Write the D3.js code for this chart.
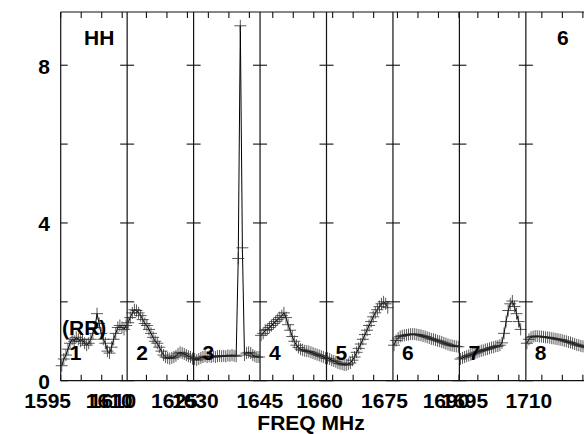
<!DOCTYPE html>
<html>
<head>
<meta charset="utf-8">
<script src="https://cdn.jsdelivr.net/npm/d3@7"></script>
<style>
  html, body { margin: 0; padding: 0; background: #fff; }
  svg { display: block; }
  text { font-family: "Liberation Sans", Arial, Helvetica, sans-serif; font-weight: bold; fill: #000; }
</style>
</head>
<body>
<svg id="chart" width="584" height="434"></svg>
<script>
// ---------------- data ----------------
const panelNames = ["1", "2", "3", "4", "5", "6", "7", "8"];
const panelStartMHz = [1595, 1610.3, 1626.4, 1641.9, 1658.5, 1673.9, 1690.5, 1706.1];
const panelSpanMHz = 16.2;
const channelsPerPanel = 32;

const amp1 = [0.38,0.55,0.65,0.8,0.95,1.05,1.0,1.1,1.05,1.0,1.05,0.95,0.9,0.95,1.05,1.2,1.35,1.7,1.45,1.2,1.05,0.95,0.75,0.7,0.85,1.05,1.2,1.35,1.4,1.35,1.3,1.4];
const amp2 = [1.47,1.6,1.72,1.8,1.78,1.72,1.65,1.55,1.45,1.4,1.3,1.2,1.1,1.0,0.95,0.85,0.75,0.65,0.6,0.58,0.56,0.58,0.6,0.63,0.68,0.72,0.7,0.68,0.65,0.62,0.6,0.56];
const amp3 = [0.55,0.52,0.55,0.58,0.6,0.62,0.6,0.62,0.6,0.62,0.6,0.62,0.63,0.62,0.63,0.62,0.64,0.63,0.65,0.63,0.62,3.1,9.0,3.37,0.65,0.7,0.72,0.7,0.65,0.62,0.6,0.6];
const amp4 = [1.15,1.2,1.28,1.3,1.35,1.4,1.45,1.5,1.55,1.6,1.65,1.72,1.6,1.42,1.28,1.12,1.0,0.9,0.84,0.8,0.78,0.76,0.75,0.74,0.72,0.7,0.68,0.66,0.64,0.62,0.6,0.57];
const amp5 = [0.57,0.55,0.52,0.5,0.48,0.45,0.43,0.42,0.4,0.4,0.42,0.45,0.52,0.6,0.72,0.82,0.93,1.05,1.17,1.28,1.4,1.5,1.62,1.72,1.8,1.88,1.95,2.0,1.95,1.85,null,null];
const amp6 = [0.9,1.02,1.08,1.12,1.14,1.15,1.16,1.17,1.18,1.18,1.18,1.17,1.16,1.15,1.13,1.12,1.1,1.08,1.06,1.05,1.03,1.01,1.0,0.98,0.96,0.94,0.92,0.9,0.89,0.88,0.87,0.86];
const amp7 = [0.55,0.58,0.6,0.62,0.64,0.66,0.68,0.7,0.72,0.74,0.76,0.77,0.79,0.8,0.82,0.84,0.85,0.87,0.88,0.9,0.96,1.2,1.5,1.78,1.95,2.02,1.88,1.7,1.5,1.3,null,null];
const amp8 = [0.95,1.05,1.1,1.12,1.13,1.13,1.12,1.12,1.11,1.1,1.1,1.09,1.08,1.07,1.06,1.05,1.04,1.03,1.01,1.0,0.98,0.97,0.95,0.93,0.91,0.9,0.88,0.87,0.86,0.84,0.83,0.82];
const amplitudes = [amp1, amp2, amp3, amp4, amp5, amp6, amp7, amp8];

const freqTickStep = 5;
const freqTickLabels = [[1595, 1610], [1610, 1625], [1630], [1645], [1660], [1675, 1690], [1695], [1710]];
const yTicks = [0, 2, 4, 6, 8];
const yTickLabels = [0, 4, 8];
const yMax = 9.35;
const titleLeft = "HH";
const titleRight = "6";
const polLabel = "(RR)";
const xTitle = "FREQ MHz";

// ---------------- layout ----------------
(function () {
const svg = d3.select("#chart");
const plotLeft = 60.7, plotTop = 12, plotBottom = 380.7, panelW = 66.45;
const W = 584;
const y = d3.scaleLinear().domain([0, yMax]).range([plotBottom, plotTop]);
const fs = 21;

const g = svg.append("g");

// frame lines
g.append("line").attr("x1", plotLeft).attr("x2", W + 20).attr("y1", plotTop).attr("y2", plotTop)
  .attr("stroke", "#111").attr("stroke-width", 1.2);
g.append("line").attr("x1", plotLeft).attr("x2", W + 20).attr("y1", plotBottom).attr("y2", plotBottom)
  .attr("stroke", "#111").attr("stroke-width", 1.2);
g.append("line").attr("x1", plotLeft).attr("x2", plotLeft).attr("y1", plotTop).attr("y2", plotBottom)
  .attr("stroke", "#111").attr("stroke-width", 1.2);

// y ticks on left axis
yTicks.forEach(t => {
  g.append("line").attr("x1", plotLeft).attr("x2", plotLeft + 7).attr("y1", y(t)).attr("y2", y(t))
    .attr("stroke", "#111").attr("stroke-width", 1.1);
});
yTickLabels.forEach(t => {
  g.append("text").attr("x", 50).attr("y", y(t) + 8.5).attr("text-anchor", "end")
    .attr("font-size", fs).text(t);
});

const line = d3.line()
  .defined(d => d.v !== null)
  .x(d => d.x).y(d => y(d.v));

panelStartMHz.forEach((start, i) => {
  const x0 = plotLeft + i * panelW, x1 = x0 + panelW;
  const x = d3.scaleLinear().domain([start, start + panelSpanMHz]).range([x0, x1]);

  // divider at right edge of panel
  g.append("line").attr("x1", x1).attr("x2", x1).attr("y1", plotTop).attr("y2", plotBottom)
    .attr("stroke", "#111").attr("stroke-width", 1.2);
  yTicks.forEach(t => {
    g.append("line").attr("x1", x1 - 7).attr("x2", x1 + 7).attr("y1", y(t)).attr("y2", y(t))
      .attr("stroke", "#111").attr("stroke-width", 1.1);
  });

  // frequency ticks (top and bottom)
  const firstTick = Math.ceil(start / freqTickStep) * freqTickStep;
  const ticks = d3.range(firstTick, start + panelSpanMHz + 0.01, freqTickStep);
  ticks.forEach(f => {
    g.append("line").attr("x1", x(f)).attr("x2", x(f)).attr("y1", plotTop).attr("y2", plotTop + 6)
      .attr("stroke", "#111").attr("stroke-width", 1.1);
    g.append("line").attr("x1", x(f)).attr("x2", x(f)).attr("y1", plotBottom).attr("y2", plotBottom - 6)
      .attr("stroke", "#111").attr("stroke-width", 1.1);
  });
  freqTickLabels[i].forEach(f => {
    g.append("text").attr("x", x(f) - 13).attr("y", 408).attr("text-anchor", "middle")
      .attr("font-size", fs).text(f);
  });

  // data
  const step = panelSpanMHz / channelsPerPanel;
  const pts = amplitudes[i].map((v, j) => ({ x: x(start + (j + 0.5) * step), v }));
  g.append("path").datum(pts).attr("d", line)
    .attr("fill", "none").attr("stroke", "#000").attr("stroke-width", 1);
  g.append("g").selectAll("path").data(pts.filter(d => d.v !== null)).join("path")
    .attr("d", d => {
      const cx = d.x, cy = y(d.v);
      return `M${cx - 6},${cy}H${cx + 6}M${cx},${cy - 6}V${cy + 6}`;
    })
    .attr("stroke", "#222").attr("stroke-width", 1).attr("stroke-opacity", 0.75);

  // panel number
  g.append("text").attr("x", x0 + 9).attr("y", 360).attr("font-size", fs).text(panelNames[i]);
});

// other labels
g.append("text").attr("x", 84).attr("y", 45).attr("font-size", fs).text(titleLeft);
g.append("text").attr("x", 557).attr("y", 45).attr("font-size", fs).text(titleRight);
g.append("text").attr("x", 62).attr("y", 335).attr("font-size", fs).text(polLabel);
g.append("text").attr("x", 311).attr("y", 430).attr("text-anchor", "middle")
  .attr("font-size", fs).text(xTitle);
})();
</script>
</body>
</html>
